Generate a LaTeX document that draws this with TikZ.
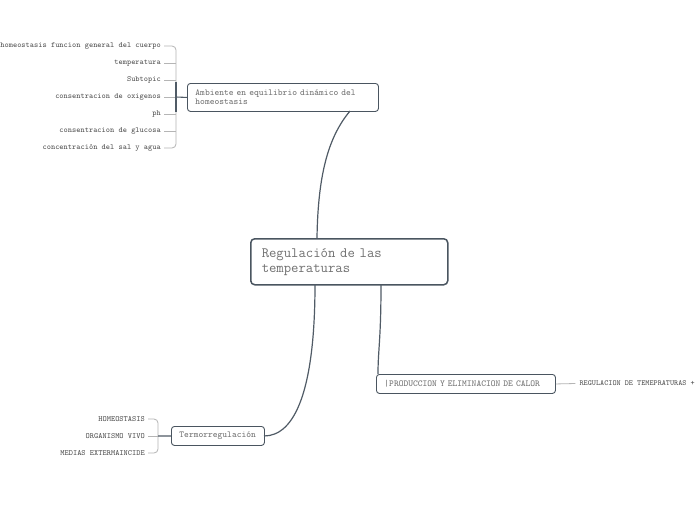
\documentclass[tikz,border=0pt]{standalone}
\usepackage{fontspec}
\begin{document}
\begin{tikzpicture}[x=1pt,y=-1pt,
  box/.style={draw=boxc, rounded corners=3pt, line width=0.9pt, anchor=north west, inner sep=0pt, font=\ttfamily\fontsize{9.1}{9}\selectfont, text=txtc, align=left},
  mainbox/.style={draw=boxc, rounded corners=4pt, line width=1.5pt, anchor=north west, inner sep=0pt, font=\ttfamily\fontsize{14.3}{15}\selectfont, text=txtc, align=left},
  item/.style={anchor=east, inner sep=0pt, font=\ttfamily\fontsize{7.95}{8}\selectfont, text=itemc},
  conn/.style={draw=linec, line width=1.2pt},
  brk/.style={draw=brkc, line width=0.8pt},
  stem/.style={draw=linec, line width=1.1pt}]
\definecolor{boxc}{HTML}{4A5560}
\definecolor{linec}{HTML}{505B66}
\definecolor{txtc}{HTML}{707070}
\definecolor{itemc}{HTML}{505050}
\definecolor{brkc}{HTML}{B5B5B5}
\useasboundingbox (0,0) rectangle (696,520);
\fill[white] (0,0) rectangle (696,520);

% central
\node[mainbox, minimum width=197pt, minimum height=46pt, text width=175pt] (c) at (250,238) {Regulación de las\\temperaturas};
\coordinate (c1) at (317,238);
\coordinate (c2) at (315,284);
\coordinate (c3) at (381,284);

% Ambiente
\node[box, minimum width=191pt, minimum height=28pt, text width=175pt] (a) at (187,83) {Ambiente en equilibrio dinámico del\\homeostasis};
\coordinate (a1) at (350,111);

% Produccion
\node[box, minimum width=179pt, minimum height=19pt, text width=163pt] (p) at (376,374) {|PRODUCCION Y ELIMINACION DE CALOR};
\coordinate (p1) at (378,374);

% Termorregulacion
\node[box, minimum width=93pt, minimum height=19pt, text width=77pt] (t) at (171,426) {Termorregulación};
\coordinate (t1) at (264,436);

% connectors
\draw[conn] (c1) .. controls (318,170) and (330,135) .. (a1);
\draw[conn] (c2) .. controls (315,390) and (295,436) .. (t1);
\draw[conn] (c3) .. controls (381,340) and (378,350) .. (p1);

% Ambiente items
\node[item] (i1) at (161,46) {homeostasis funcion general del cuerpo};
\node[item] (i2) at (161,63) {temperatura};
\node[item] (i3) at (161,80) {Subtopic};
\node[item] (i4) at (161,97) {consentracion de oxigenos};
\node[item] (i5) at (161,114) {ph};
\node[item] (i6) at (161,131) {consentracion de glucosa};
\node[item] (i7) at (161,148) {concentración del sal y agua};
\coordinate (ab) at (176,97);
\draw[brk, rounded corners=4pt] ([xshift=3pt]i1.east) -- (176,46) -- (176,148) -- ([xshift=3pt]i7.east);
\foreach \n in {i2,i3,i4,i5,i6} \draw[brk] ([xshift=3pt]\n.east) -- (176,0 |- \n.east);
\draw[stem] (176,82) -- (176,112);
\draw[stem] (ab) -- (a.west);

% Termorregulacion items
\node[item] (h1) at (145,419) {HOMEOSTASIS};
\node[item] (h2) at (145,436) {ORGANISMO VIVO};
\node[item] (h3) at (145,453) {MEDIAS EXTERMAINCIDE};
\coordinate (tb) at (158,436);
\draw[brk, rounded corners=4pt] ([xshift=3pt]h1.east) -- (158,419) -- (158,453) -- ([xshift=3pt]h3.east);
\draw[brk] ([xshift=3pt]h2.east) -- (tb);
\draw[stem] (tb) -- (t.west);

% Produccion child
\node[item, anchor=east, font=\ttfamily\fontsize{7.75}{8}\selectfont] (r1) at (695,383.5) {REGULACION DE TEMEPRATURAS +};
\draw[brk] (p.east) -- ([xshift=-4pt]r1.west);
\end{tikzpicture}
\end{document}
